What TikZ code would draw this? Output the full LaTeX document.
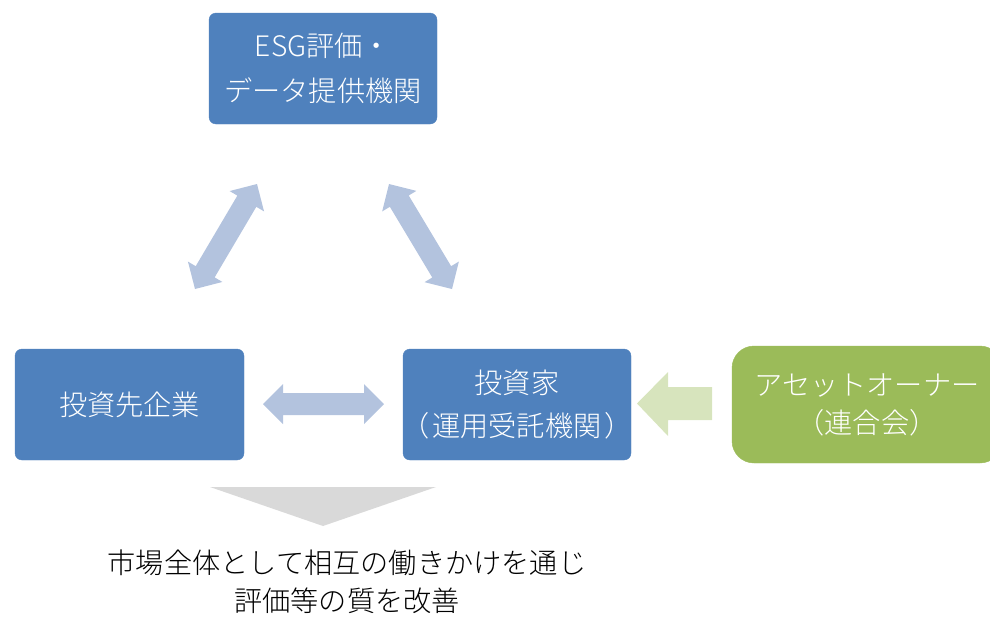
\documentclass[tikz,border=0pt]{standalone}
\usepackage{fontspec}
\newfontfamily\jp{Noto Sans CJK JP Light}
\usetikzlibrary{calc}
\definecolor{boxblue}{HTML}{4F81BD}
\definecolor{boxgreen}{HTML}{9BBB59}
\definecolor{arrblue}{HTML}{B3C3DE}
\definecolor{arrgreen}{HTML}{D7E4BD}
\definecolor{trigray}{HTML}{D9D9D9}
\newcommand{\dblarr}[3]{%
  \coordinate (h1) at ($(#1)!20pt!(#2)$);
  \coordinate (h2) at ($(#2)!20pt!(#1)$);
  \fill[#3] (#1) -- ($(h1)!20pt!90:(#2)$) -- ($(h1)!11pt!90:(#2)$)
    -- ($(h2)!11pt!-90:(#1)$) -- ($(h2)!20pt!-90:(#1)$) -- (#2)
    -- ($(h2)!20pt!90:(#1)$) -- ($(h2)!11pt!90:(#1)$)
    -- ($(h1)!11pt!-90:(#2)$) -- ($(h1)!20pt!-90:(#2)$) -- cycle;}
\tikzset{
  bluebox/.style={draw=boxblue, fill=boxblue, rounded corners=7pt, minimum width=228pt,
    text width=228pt, minimum height=111pt, inner sep=0pt, align=center, text=white},
  greenbox/.style={draw=boxgreen, fill=boxgreen, rounded corners=22pt, minimum width=270pt,
    minimum height=117pt, inner sep=0pt, align=center, text=white},
}
\begin{document}
\begin{tikzpicture}[x=1pt,y=-1pt]
\useasboundingbox (0,0) rectangle (990,616);
\begin{scope}
\clip (0,0) rectangle (990,616);
\node[bluebox, font=\jp\fontsize{28.2}{45}\selectfont] (esg) at (323,68.5) {ESG評価・\\データ提供機関};
\node[bluebox, minimum width=229pt, text width=229pt, font=\jp\fontsize{28.2}{43}\selectfont] (kigyo) at (129.5,404.5) {投資先企業};
\node[bluebox, font=\jp\fontsize{28.2}{43}\selectfont] (toushika) at (517,404.5) {投資家\\\makebox[228pt]{（\hspace{3pt}運用受託機関\hspace{3pt}）}};
\node[greenbox, font=\jp\fontsize{28.2}{38}\selectfont] (owner) at (867,404.5) {アセットオーナー\\（連合会）};
\end{scope}
% double arrows
\coordinate (L1) at (195,289); \coordinate (L2) at (257,184);
\coordinate (R1) at (389,184); \coordinate (R2) at (452,289);
\coordinate (M1) at (263,404); \coordinate (M2) at (384,404);
\dblarr{L1}{L2}{arrblue}
\dblarr{R1}{R2}{arrblue}
\dblarr{M1}{M2}{arrblue}
% green arrow
\coordinate (gt) at (637,403.5);
\fill[arrgreen] (gt) -- (668,372) -- (668,387) -- (712,387) -- (712,420) -- (668,420) -- (668,436) -- cycle;
% gray triangle
\coordinate (tt) at (323,526);
\fill[trigray] (210,487) -- (436,487) -- (tt) -- cycle;
\node[font=\jp\fontsize{28.2}{38}\selectfont, align=center, inner sep=0pt] (result) at (347,582)
  {市場全体として相互の働きかけを通じ\\評価等の質を改善};
\end{tikzpicture}
\end{document}
